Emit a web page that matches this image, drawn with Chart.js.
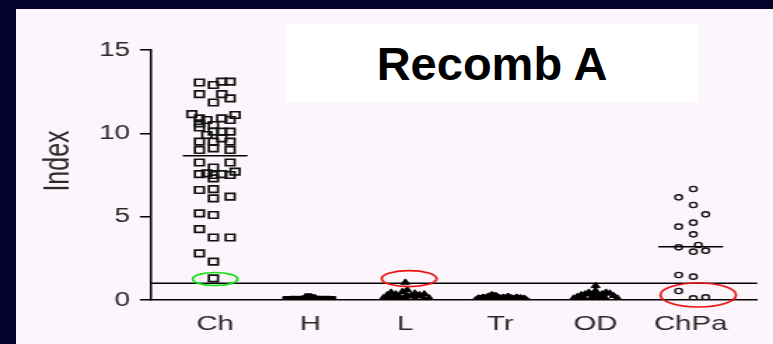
<!DOCTYPE html>
<html>
<head>
<meta charset="utf-8">
<script src="https://cdn.jsdelivr.net/npm/chart.js@4.4.0/dist/chart.umd.min.js"></script>
<style>
  html, body { margin: 0; padding: 0; }
  body { width: 773px; height: 344px; background: #02022c; position: relative; overflow: hidden; font-family: "Liberation Sans", Arial, sans-serif; }
  #painel { position: absolute; left: 16px; top: 9px; right: 0; bottom: 0; background: #fcf5fb; }
  /* o gráfico original está esticado na horizontal (~1.4x) */
  #envoltorio { position: absolute; left: 0; top: 0; width: 552px; height: 344px; transform: scaleX(1.4004); transform-origin: 0 0; }
  #caixaTitulo { position: absolute; left: 286px; top: 24px; width: 412px; height: 78px; background: #fff;
    display: flex; align-items: center; justify-content: center; font-weight: bold; font-size: 47px; color: #000; }
</style>
</head>
<body>
<div id="painel"></div>
<div id="envoltorio"><canvas id="grafico" width="552" height="344"></canvas></div>
<div id="caixaTitulo">Recomb A</div>

<script>
// ================== Dados ==================
const categorias = ['Ch', 'H', 'L', 'Tr', 'OD', 'ChPa'];
const ticksY = [0, 5, 10, 15];
const linhaCorte = 1;
const medianas = [8.65, null, null, null, null, 3.2];

// Ch: valores e deslocamento horizontal (fração da categoria)
const chValores = [13.05, 12.9, 13.1, 13.1, 12.35, 12.35, 12.1, 11.85,
  11.15, 11.1, 10.9, 10.8, 10.9, 10.8, 10.6, 10.35, 10.5,
  10.1, 10.1, 10.1, 9.9, 9.7, 9.5, 9.5, 9.5, 9.0, 9.1, 9.0,
  8.25, 8.25, 7.95, 7.7, 7.6, 7.55, 7.5, 7.55, 7.5, 7.3, 6.6, 6.65, 6.1, 6.2,
  5.2, 5.1, 4.25, 3.75, 3.75, 2.8, 2.3, 1.3];
const chDesvio = [-0.165, -0.018, 0.07, 0.158, -0.165, 0.07, 0.158, -0.018,
  -0.245, 0.21, -0.165, -0.087, 0.07, 0.158, -0.165, -0.165, -0.018,
  -0.018, 0.07, 0.158, -0.087, 0.07, -0.165, -0.018, 0.158, -0.165, -0.018, 0.158,
  -0.165, 0.158, -0.018, 0.21, -0.087, -0.165, -0.018, 0.07, 0.158, -0.018, -0.165, -0.018, -0.018, 0.158,
  -0.165, -0.018, -0.165, -0.018, 0.158, -0.165, -0.018, -0.018];

const hValores = [0.05, 0.06, 0.07, 0.06, 0.07, 0.1, 0.22, 0.16, 0.08, 0.07, 0.06, 0.07, 0.06, 0.05, 0.04, 0.04, 0.05, 0.04];
const hDesvio = [-0.25, -0.21, -0.17, -0.13, -0.09, -0.05, -0.02, 0.02, 0.05, 0.09, 0.13, 0.17, 0.21, 0.23, -0.15, -0.07, 0.07, 0.15];

const lValores = [0.12, 0.3, 0.45, 0.35, 0.2, 0.5, 1.05, 0.6, 0.25, 0.4, 0.3, 0.35, 0.12, 0.08, 0.08, 0.15, 0.08, 0.08, 0.3, 0.2, 0.25];
const lDesvio = [-0.23, -0.19, -0.15, -0.1, -0.06, -0.03, 0, 0.02, 0.06, 0.1, 0.15, 0.2, 0.25, -0.18, -0.08, 0, 0.1, 0.19, 0.01, -0.12, 0.13];

const trValores = [0.1, 0.15, 0.2, 0.3, 0.25, 0.12, 0.15, 0.2, 0.1, 0.15, 0.12, 0.08, 0.06, 0.06, 0.06, 0.06];
const trDesvio = [-0.23, -0.18, -0.13, -0.09, -0.05, -0.01, 0.03, 0.08, 0.12, 0.17, 0.21, 0.25, -0.15, -0.04, 0.06, 0.15];

const odValores = [0.1, 0.2, 0.3, 0.35, 0.45, 0.35, 0.85, 0.55, 0.25, 0.3, 0.35, 0.45, 0.4, 0.25, 0.1, 0.12, 0.12, 0.15, 0.15];
const odDesvio = [-0.23, -0.19, -0.15, -0.11, -0.07, -0.03, 0, 0, 0, 0.03, 0.07, 0.11, 0.15, 0.19, 0.23, -0.12, 0.1, -0.04, 0.05];

const chpaValores = [6.66, 6.16, 5.7, 5.14, 4.64, 4.4, 3.94, 3.16, 3.3, 2.9, 2.96, 1.5, 1.4, 0.54, 0.1, 0.16];
const chpaDesvio = [0.028, -0.126, 0.028, 0.158, 0.028, -0.126, 0.028, -0.126, 0.081, 0.028, 0.158, -0.126, 0.028, -0.126, 0.028, 0.158];

// ================== Montagem ==================
function pontos(indice, valores, desvios) {
  return valores.map((v, i) => ({ x: indice + desvios[i], y: v }));
}

const destaques = [
  { x: 0.0, y: 1.26, rx: 16, ry: 6.5, cor: '#19e019' },
  { x: 2.04, y: 1.28, rx: 19.6, ry: 8, cor: '#ee1111' },
  { x: 5.08, y: 0.3, rx: 27, ry: 12, cor: '#ee1111' }
];

const extras = {
  id: 'extras',
  afterDatasetsDraw(chart) {
    const { ctx, chartArea, scales: { x, y } } = chart;
    ctx.save();
    ctx.strokeStyle = '#000';
    ctx.lineWidth = 1.5;
    const yc = y.getPixelForValue(linhaCorte);
    ctx.beginPath(); ctx.moveTo(chartArea.left, yc); ctx.lineTo(chartArea.right, yc); ctx.stroke();

    medianas.forEach((m, i) => {
      if (m === null) return;
      const ym = y.getPixelForValue(m);
      ctx.beginPath();
      ctx.moveTo(x.getPixelForValue(i - 0.34), ym);
      ctx.lineTo(x.getPixelForValue(i + 0.34), ym);
      ctx.stroke();
    });

    ctx.lineWidth = 1.7;
    destaques.forEach(d => {
      ctx.strokeStyle = d.cor;
      ctx.beginPath();
      ctx.ellipse(x.getPixelForValue(d.x), y.getPixelForValue(d.y), d.rx, d.ry, 0, 0, Math.PI * 2);
      ctx.stroke();
    });

    // rótulo do eixo Y
    ctx.fillStyle = '#2a2a2a';
    ctx.font = '25px "Liberation Sans", Arial, sans-serif';
    ctx.textAlign = 'center';
    ctx.textBaseline = 'middle';
    ctx.translate(42.5, 161);
    ctx.rotate(-Math.PI / 2);
    ctx.fillText('Index', 0, 0);
    ctx.restore();
  }
};

const estiloCheio = { backgroundColor: '#000', borderColor: '#000', borderWidth: 1, pointRadius: 3.6 };

new Chart(document.getElementById('grafico'), {
  type: 'scatter',
  data: {
    datasets: [
      { label: 'Ch', data: pontos(0, chValores, chDesvio), pointStyle: 'rect', pointRadius: 4.6,
        backgroundColor: 'rgba(0,0,0,0)', borderColor: '#111', borderWidth: 1.7 },
      { label: 'H', data: pontos(1, hValores, hDesvio), pointStyle: 'rect', ...estiloCheio },
      { label: 'L', data: pontos(2, lValores, lDesvio), pointStyle: 'triangle', ...estiloCheio },
      { label: 'Tr', data: pontos(3, trValores, trDesvio), pointStyle: 'rectRot', ...estiloCheio },
      { label: 'OD', data: pontos(4, odValores, odDesvio), pointStyle: 'triangle', ...estiloCheio },
      { label: 'ChPa', data: pontos(5, chpaValores, chpaDesvio), pointStyle: 'circle', pointRadius: 2.6,
        backgroundColor: 'rgba(0,0,0,0)', borderColor: '#111', borderWidth: 1.4 }
    ]
  },
  options: {
    responsive: false,
    animation: false,
    layout: { padding: { left: 0, right: 11.3, top: 50, bottom: 0 } },
    plugins: { legend: { display: false }, tooltip: { enabled: false } },
    scales: {
      x: {
        type: 'linear', min: -0.673, max: 5.7,
        afterBuildTicks: s => { s.ticks = categorias.map((c, i) => ({ value: i })); },
        afterFit: s => { s.height = 44; },
        grid: { display: false },
        border: { display: true, color: '#000', width: 1.5 },
        ticks: { padding: 4, color: '#2a2a2a', font: { size: 21, family: '"Liberation Sans", Arial, sans-serif' },
          callback: v => categorias[v] }
      },
      y: {
        min: 0, max: 15,
        afterBuildTicks: s => { s.ticks = ticksY.map(v => ({ value: v })); },
        afterFit: s => { s.width = 107.9; },
        grid: { drawOnChartArea: false, drawTicks: true, tickLength: 8, color: '#000', lineWidth: 1.5 },
        border: { display: true, color: '#000', width: 1.5 },
        ticks: { padding: 7, color: '#2a2a2a', font: { size: 20, family: '"Liberation Sans", Arial, sans-serif' } }
      }
    }
  },
  plugins: [extras]
});
</script>
</body>
</html>
